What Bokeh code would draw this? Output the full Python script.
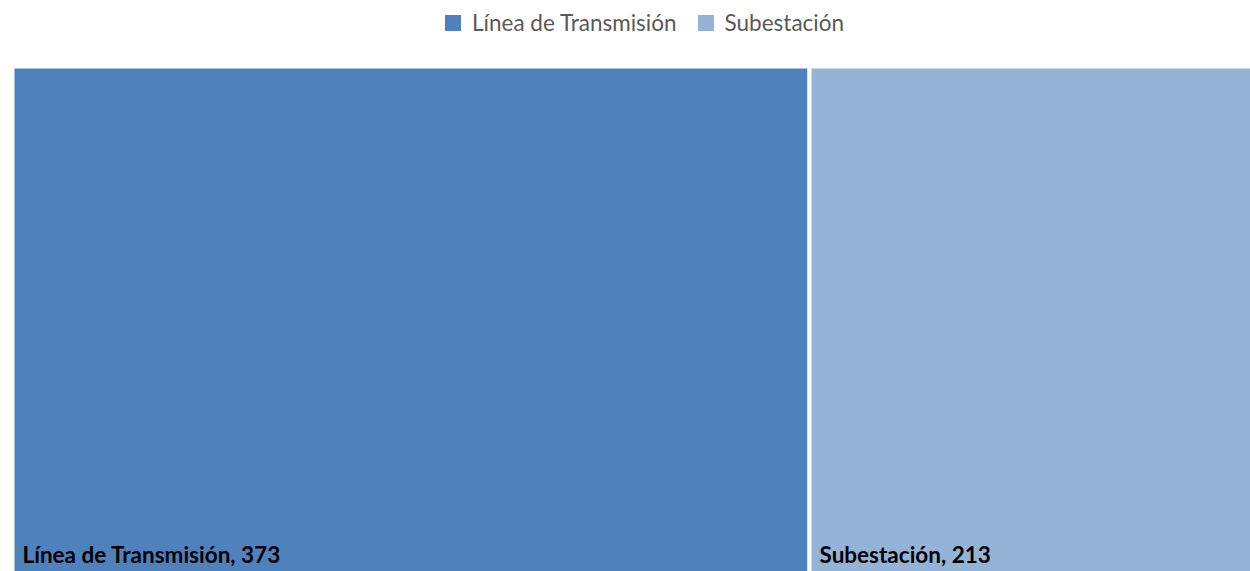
from bokeh.plotting import figure
from bokeh.models import ColumnDataSource, Range1d, Legend, LegendItem
from bokeh.core.properties import value
from bokeh.embed import file_html
from bokeh.resources import INLINE
import numpy as np

# ---- data ----
categories = ["Línea de Transmisión", "Subestación"]
values = [373, 213]
colors = ["#4F81BD", "#95B3D7"]

W, H = 1250, 571
vals = np.array(values, dtype=float)
rights = np.cumsum(vals)
lefts = rights - vals

src = ColumnDataSource(dict(
    left=lefts, right=rights, bottom=[0.0] * len(vals), top=[1.0] * len(vals),
    color=colors, label=[f"{c}, {v}" for c, v in zip(categories, values)],
))

# pixel targets for the layout
px0, px1 = 12.0, 809.0          # screen x of value 0 and of first boundary
s = (px1 - px0) / vals[0]
x_start = -px0 / s
x_end = x_start + W / s
y_start = 0.005
top_px = 66.0
f = top_px / H
y_end = (1 - f * y_start) / (1 - f)
yscale = H / (y_end - y_start)
y0_px = H + y_start * yscale
label_shift_px = -20.0

p = figure(width=W, height=H, output_backend="svg", toolbar_location=None,
           x_range=Range1d(x_start, x_end), y_range=Range1d(y_start, y_end),
           min_border=0, outline_line_color=None)
p.axis.visible = False
p.grid.visible = False
p.background_fill_color = "white"
p.border_fill_color = "white"

main = p.quad(left="left", right="right", bottom="bottom", top="top", source=src,
              fill_color="color", line_color="white", line_width=4)

p.text(x="left", y="bottom", text="label", source=src, x_offset=10,
       y_offset=label_shift_px,
       text_font=value("Lato"), text_font_style="bold", text_font_size="22.5px",
       text_color="black", text_baseline="alphabetic", text_align="left")

items = [LegendItem(label=c, renderers=[main], index=i) for i, c in enumerate(categories)]

legend = Legend(items=items, orientation="horizontal", location=(440, 535.5),
                padding=0, margin=0, spacing=16, border_line_color=None,
                background_fill_alpha=0, glyph_width=25, glyph_height=25,
                label_standoff=7, label_height=25, label_width=0,
                label_text_font="Lato", label_text_font_size="22.5px",
                label_text_color="#595959", label_text_baseline="middle")
p.add_layout(legend, "center")

open("out.html", "w").write(file_html(p, INLINE))
